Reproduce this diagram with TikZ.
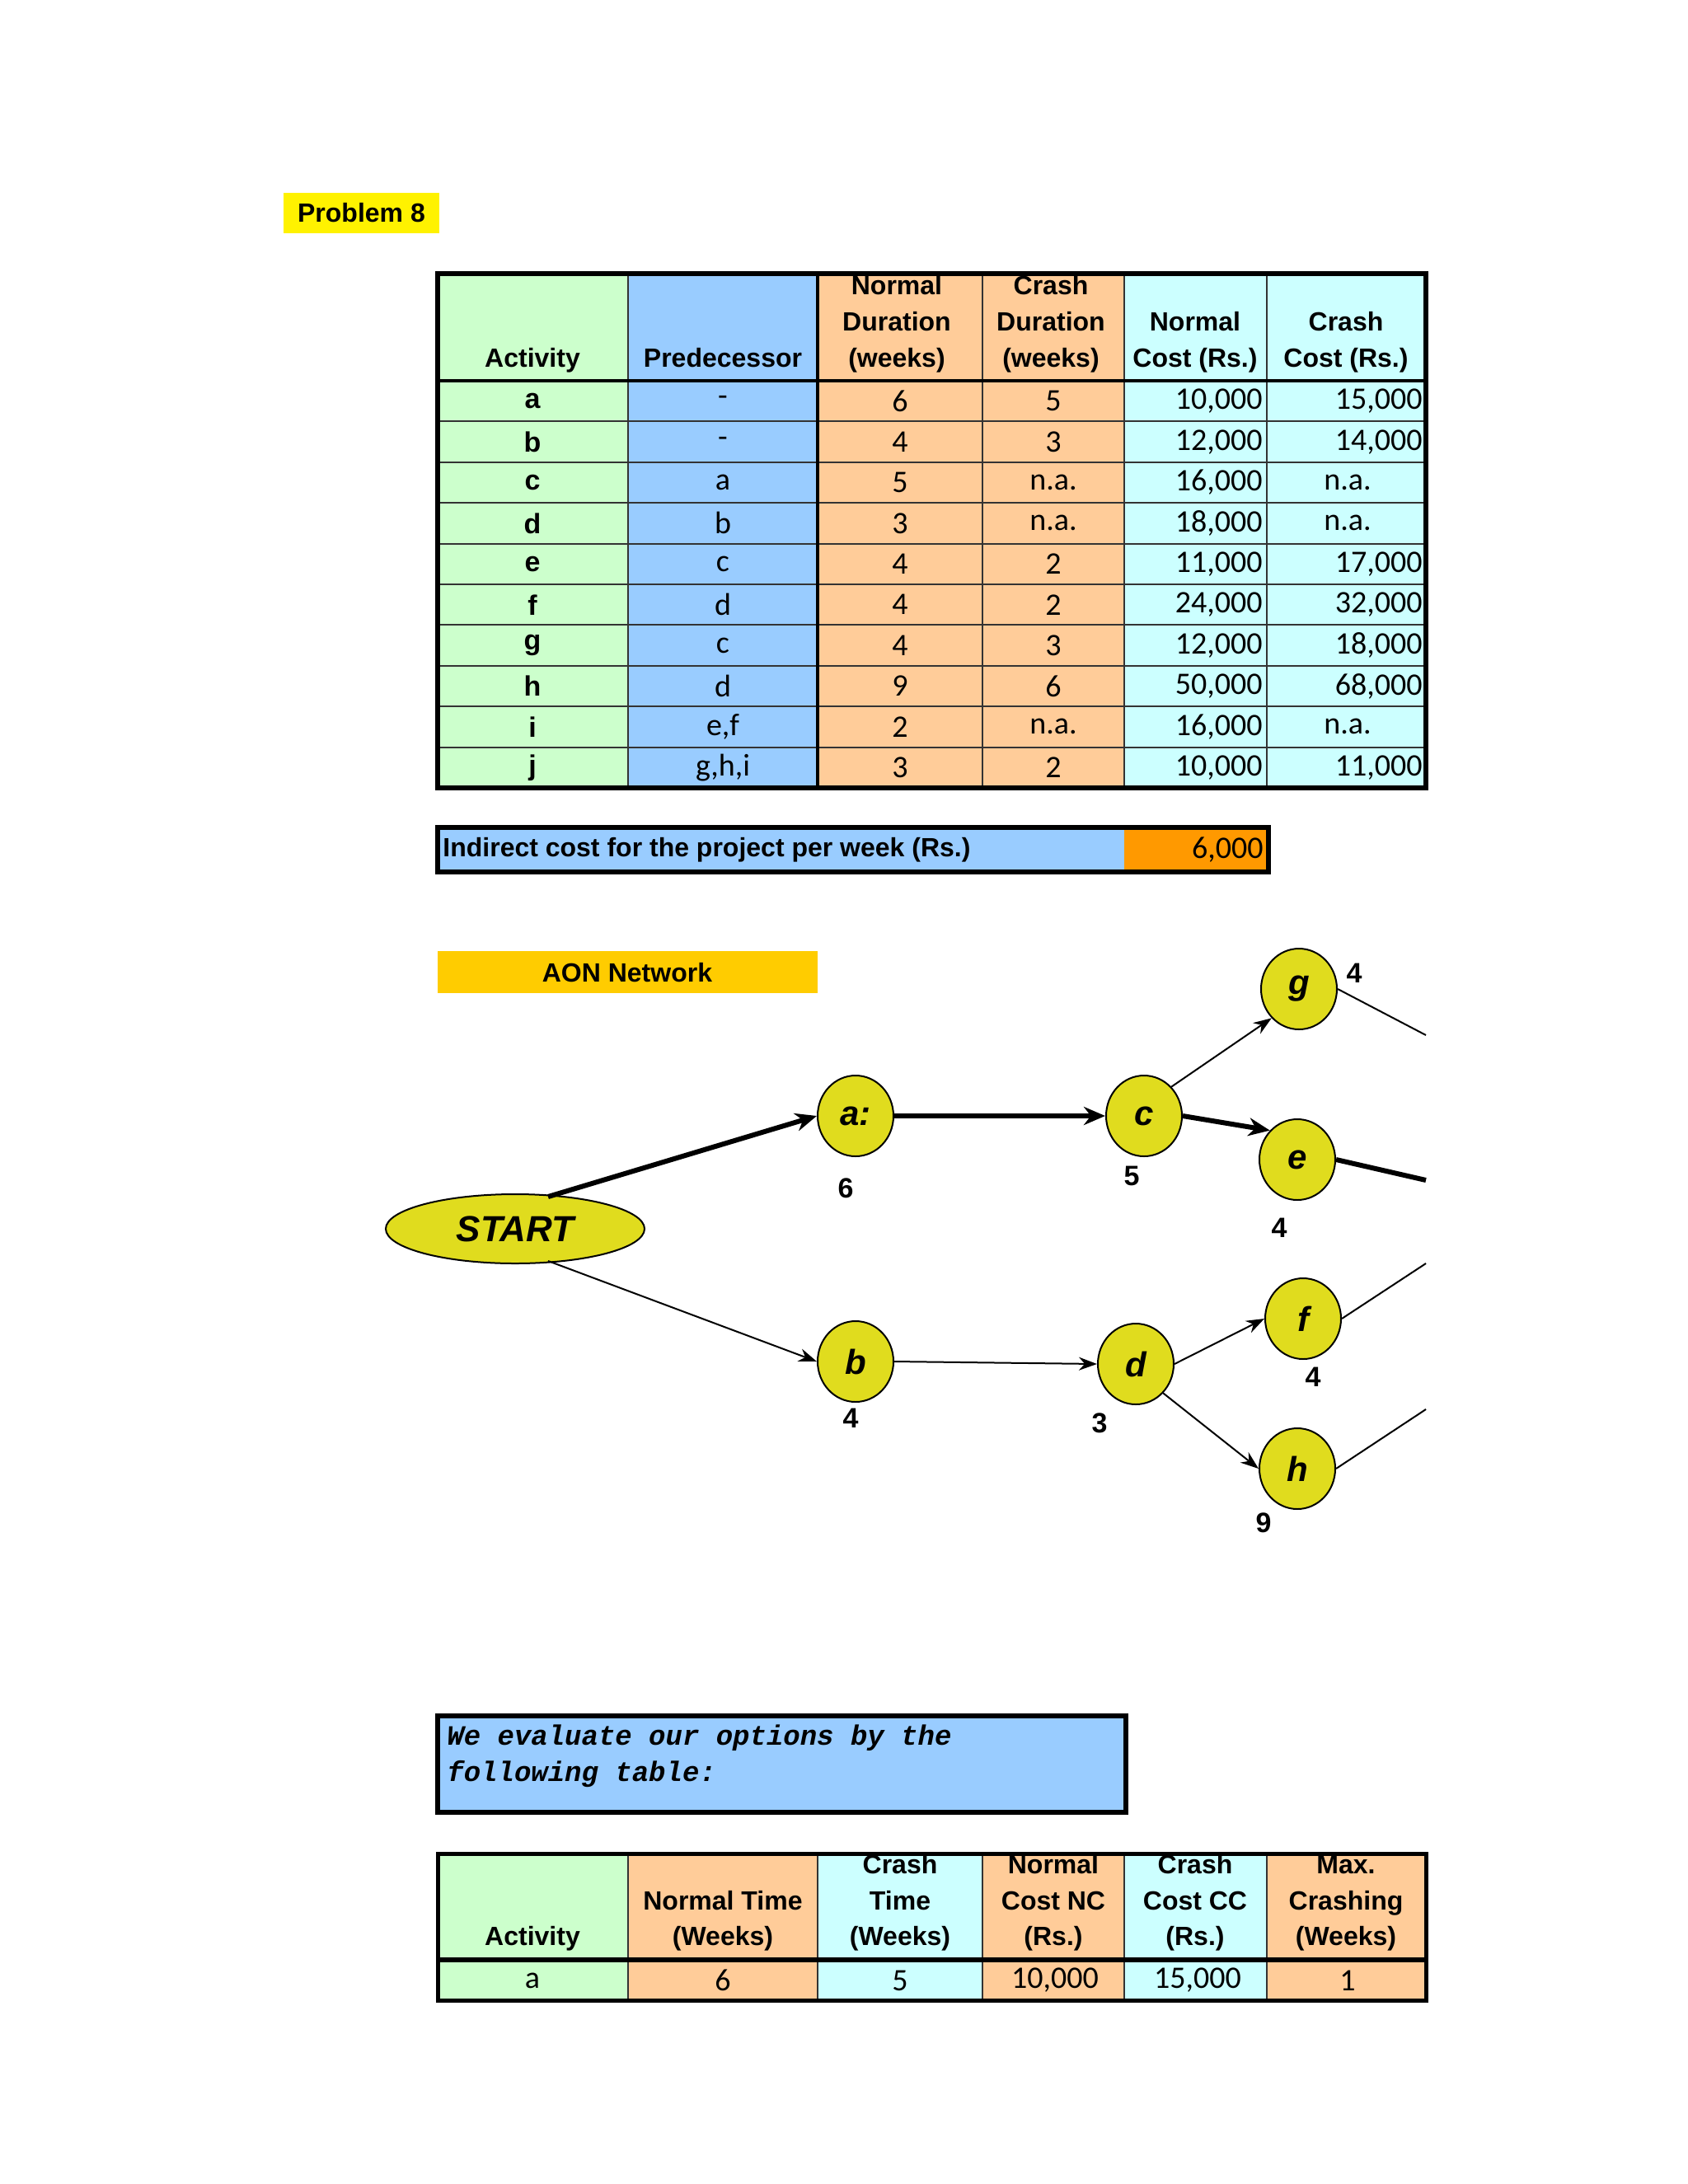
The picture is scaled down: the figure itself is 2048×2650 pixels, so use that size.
\documentclass[tikz,border=0pt]{standalone}
\usepackage{fontspec}
\setmainfont{Liberation Sans}
\newfontfamily\numf{Carlito}
\newfontfamily\monof{Liberation Mono}
\usetikzlibrary{shapes.geometric,arrows.meta}
\definecolor{cgreen}{HTML}{CCFFCC}
\definecolor{cblue}{HTML}{99CCFF}
\definecolor{corange}{HTML}{FFCC99}
\definecolor{ccyan}{HTML}{CCFFFF}
\definecolor{cdeep}{HTML}{FF9900}
\definecolor{cgold}{HTML}{FFCC00}
\definecolor{cnode}{RGB}{224,220,30}
\tikzset{
 hd/.style={font=\fontsize{16}{16}\selectfont\bfseries,anchor=base,inner sep=0},
 cellt/.style={font=\numf\fontsize{19}{19}\selectfont,inner sep=0},
 actt/.style={font=\fontsize{17}{17}\selectfont\bfseries,inner sep=0},
 grid/.style={draw=black!80,line width=1pt},
 act/.style={ellipse,draw,line width=1pt,fill=cnode,minimum width=46pt,minimum height=49pt,inner sep=0,font=\fontsize{21}{21}\selectfont\bfseries\itshape},
 lab/.style={font=\fontsize{17}{17}\selectfont\bfseries,inner sep=0},
 thinarr/.style={line width=1pt,-{Stealth[length=11pt,width=8pt]}},
 thickarr/.style={line width=3pt,-{Stealth[length=13pt,width=11pt]}},
}
\begin{document}
\begin{tikzpicture}[x=0.5pt,y=-0.5pt]
\useasboundingbox[fill=white] (0,0) rectangle (2048,2650);
% Problem 8
\fill[yellow] (344,234) rectangle (533,283);
\node[font=\fontsize{16}{16}\selectfont\bfseries,inner sep=0] (p8) at (438.5,258.5) {Problem 8};
% Table 1
\def\ya{332}\def\yb{462}\def\yc{956}
\fill[cgreen] (531,\ya) rectangle (762,\yc);
\fill[cblue] (762,\ya) rectangle (992,\yc);
\fill[corange] (992,\ya) rectangle (1364,\yc);
\fill[ccyan] (1364,\ya) rectangle (1730,\yc);
\begin{scope}
\clip (531,\ya) rectangle (1730,\yb);
\node[hd] (h1) at (646,445) {Activity};
\node[hd] (h2) at (877,445) {Predecessor};
\node[hd] at (1088,357) {Normal};
\node[hd] at (1088,401) {Duration};
\node[hd] at (1088,445) {(weeks)};
\node[hd] at (1275,357) {Crash};
\node[hd] at (1275,401) {Duration};
\node[hd] at (1275,445) {(weeks)};
\node[hd] at (1450,401) {Normal};
\node[hd] at (1450,445) {Cost (Rs.)};
\node[hd] at (1633,401) {Crash};
\node[hd] at (1633,445) {Cost (Rs.)};
\end{scope}
\foreach \ac/\pr/\nd/\cd/\nc/\cc [count=\i] in {a/-/6/5/{10,000}/{15,000},b/-/4/3/{12,000}/{14,000},c/a/5/n.a./{16,000}/,d/b/3/n.a./{18,000}/,e/c/4/2/{11,000}/{17,000},f/d/4/2/{24,000}/{32,000},g/c/4/3/{12,000}/{18,000},h/d/9/6/{50,000}/{68,000},i/{e,f}/2/n.a./{16,000}/,j/{g,h,i}/3/2/{10,000}/{11,000}}{
 \pgfmathsetmacro\ym{462+49.4*(\i-0.5)}
 \pgfmathsetmacro\yl{462+49.4*(\i-1)}
 \draw[grid] (531,\yl) -- (1730,\yl);
 \node[actt] at (646,\ym) {\ac};
 \node[cellt] at (877,\ym) {\pr};
 \node[cellt] at (1092,\ym) {\nd};
 \node[cellt] at (1278,\ym) {\cd};
 \node[cellt,anchor=east] at (1532,\ym) {\nc};
 \node[cellt,anchor=east] at (1726,\ym) {\cc};
}
\foreach \ac/\ym in {3/{462+49.4*2.5},4/{462+49.4*3.5},9/{462+49.4*8.5}}{
 \node[cellt] at (1635,\ym) {n.a.};
}
\foreach \x in {762,1192,1364,1537}{\draw[grid] (\x,\ya) -- (\x,\yc);}
\draw[line width=2pt] (992,\ya) -- (992,\yc);
\draw[line width=2pt] (531,\yb) -- (1730,\yb);
\draw[line width=3pt] (531,\ya) rectangle (1730,\yc);
% indirect cost
\fill[cblue] (531,1004) rectangle (1364,1058);
\fill[cdeep] (1364,1004) rectangle (1539,1058);
\draw[line width=3pt] (531,1004) rectangle (1539,1058);
\node[font=\fontsize{16}{16}\selectfont\bfseries,anchor=west,inner sep=0] (ic) at (537,1031) {Indirect cost for the project per week (Rs.)};
\node[cellt,anchor=east] (icv) at (1533,1031) {6,000};
% AON
\fill[cgold] (531,1154) rectangle (992,1205);
\node[font=\fontsize{16}{16}\selectfont\bfseries,inner sep=0] (aon) at (761,1180) {AON Network};
\node[act,minimum width=157pt,minimum height=42pt,font=\fontsize{22}{22}\selectfont\bfseries\itshape] (start) at (625,1491) {START};
\node[act] (a) at (1038,1354) {a:};
\node[act] (c) at (1388,1354) {c};
\node[act] (g) at (1576,1200) {g};
\node[act] (e) at (1574,1407) {e};
\node[act] (b) at (1038,1652) {b};
\node[act] (d) at (1378,1655) {d};
\node[act] (f) at (1581,1600) {f};
\node[act] (h) at (1574,1782) {h};
\node[lab] at (1026,1442) {6};
\node[lab] at (1373,1427) {5};
\node[lab] at (1552,1490) {4};
\node[lab] at (1643,1181) {4};
\node[lab] at (1032,1721) {4};
\node[lab] at (1334,1727) {3};
\node[lab] at (1593,1671) {4};
\node[lab] at (1533,1848) {9};
\coordinate (sa) at (665,1452);
\coordinate (sb) at (665,1530);
\coordinate (go) at (1730,1256);
\coordinate (eo) at (1730,1432);
\coordinate (fo) at (1730,1533);
\coordinate (ho) at (1730,1710);
\draw[thickarr] (sa) -- (a.west);
\draw[thickarr] (a.east) -- (c.west);
\draw[thickarr] (c.east) -- (e.north west);
\draw[line width=3pt] (e.east) -- (eo);
\draw[thinarr] (c.north east) -- (g.south west);
\draw[line width=1pt] (g.east) -- (go);
\draw[thinarr] (sb) -- (b.west);
\draw[thinarr] (b.east) -- (d.west);
\draw[thinarr] (d.east) -- (f.west);
\draw[thinarr] (d.south east) -- (h.west);
\draw[line width=1pt] (f.east) -- (fo);
\draw[line width=1pt] (h.east) -- (ho);
% evaluate box
\fill[cblue] (531,2082) rectangle (1366,2199);
\draw[line width=3pt] (531,2082) rectangle (1366,2199);
\node[font=\monof\fontsize{17}{22}\selectfont\bfseries\itshape,anchor=north west,align=left,inner sep=0] (ev) at (542,2092) {We evaluate our options by the\\following table:};
% Table 2
\def\ta{2249}\def\tb{2378}\def\tc{2427}
\fill[cgreen] (531,\ta) rectangle (762,\tc);
\fill[corange] (762,\ta) rectangle (992,\tc);
\fill[ccyan] (992,\ta) rectangle (1192,\tc);
\fill[corange] (1192,\ta) rectangle (1364,\tc);
\fill[ccyan] (1364,\ta) rectangle (1537,\tc);
\fill[corange] (1537,\ta) rectangle (1730,\tc);
\begin{scope}
\clip (531,\ta) rectangle (1730,\tb);
\node[hd] at (646,2360) {Activity};
\node[hd] at (877,2317) {Normal Time};
\node[hd] at (877,2360) {(Weeks)};
\node[hd] at (1092,2273) {Crash};
\node[hd] at (1092,2317) {Time};
\node[hd] at (1092,2360) {(Weeks)};
\node[hd] at (1278,2273) {Normal};
\node[hd] at (1278,2317) {Cost NC};
\node[hd] at (1278,2360) {(Rs.)};
\node[hd] at (1450,2273) {Crash};
\node[hd] at (1450,2317) {Cost CC};
\node[hd] at (1450,2360) {(Rs.)};
\node[hd] at (1633,2273) {Max.};
\node[hd] at (1633,2317) {Crashing};
\node[hd] at (1633,2360) {(Weeks)};
\end{scope}
\node[cellt] at (646,2403) {a};
\node[cellt] at (877,2403) {6};
\node[cellt] at (1092,2403) {5};
\node[cellt] at (1280,2403) {10,000};
\node[cellt] at (1453,2403) {15,000};
\node[cellt] at (1635,2403) {1};
\foreach \x in {762,992,1192,1364,1537}{\draw[grid] (\x,\ta) -- (\x,\tc);}
\draw[line width=3pt] (531,\tb) -- (1730,\tb);
\draw[line width=2.5pt] (531,\ta) rectangle (1730,\tc);
\end{tikzpicture}
\end{document}
